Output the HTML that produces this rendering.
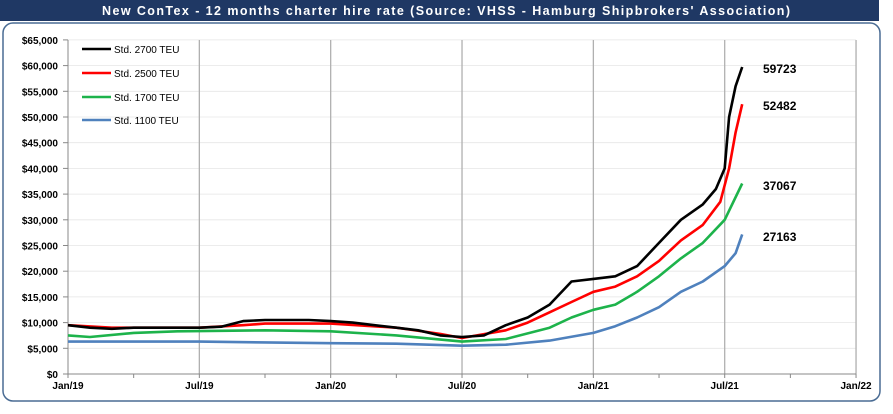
<!DOCTYPE html>
<html><head><meta charset="utf-8"><style>
body{margin:0;background:#fff;width:893px;height:409px;overflow:hidden;font-family:"Liberation Sans",sans-serif}
</style></head><body>
<svg id="s" width="893" height="409" xmlns="http://www.w3.org/2000/svg" font-family="Liberation Sans, sans-serif">
<rect x="0" y="0" width="879" height="21" fill="#1f3864"/>
<text x="102" y="15" fill="#fff" font-size="12.5" font-weight="bold" textLength="688" lengthAdjust="spacing">New ConTex - 12 months charter hire rate   (Source: VHSS - Hamburg Shipbrokers' Association)</text>
<rect x="3" y="23" width="877" height="378" rx="10" fill="none" stroke="#4a6c94" stroke-width="1.5"/>
<g id="grid"></g>
<g id="lines" fill="none" stroke-width="2.6" stroke-linejoin="round"></g>
<g font-size="10" fill="#000">
<line x1="82" y1="49" x2="111" y2="49" stroke="#000" stroke-width="2.6"/><text x="114" y="53">Std. 2700 TEU</text>
<line x1="82" y1="73" x2="111" y2="73" stroke="#f00" stroke-width="2.6"/><text x="114" y="77">Std. 2500 TEU</text>
<line x1="82" y1="97" x2="111" y2="97" stroke="#1db34b" stroke-width="2.6"/><text x="114" y="101">Std. 1700 TEU</text>
<line x1="82" y1="120" x2="111" y2="120" stroke="#4f81bd" stroke-width="2.6"/><text x="114" y="124">Std. 1100 TEU</text>
</g>
<g font-size="12" font-weight="bold">
<text x="763" y="73">59723</text><text x="763" y="110">52482</text>
<text x="763" y="190">37067</text><text x="763" y="241">27163</text>
</g>
</svg>
<script>
const X=m=>68+m*21.89, Y=v=>374-v/5000*25.7;
let g='';
for(let i=0;i<=13;i++){let y=Y(i*5000);
 if(i>0)g+=`<line x1="68" y1="${y}" x2="856" y2="${y}" stroke="#e6e6e6" stroke-width="0.8"/>`;
 g+=`<line x1="63" y1="${y}" x2="68" y2="${y}" stroke="#888"/>`;
 g+=`<text x="58" y="${y+4}" font-size="10" font-weight="bold" text-anchor="end">$${(i*5000).toLocaleString('en-US')}</text>`;}
const lab=['Jan/19','Jul/19','Jan/20','Jul/20','Jan/21','Jul/21','Jan/22'];
for(let i=0;i<=6;i++){let x=X(i*6);
 if(i>0)g+=`<line x1="${x}" y1="40" x2="${x}" y2="374" stroke="#b0b0b0" stroke-width="1.3"/>`;
 g+=`<text x="${x}" y="389" font-size="10" font-weight="bold" text-anchor="middle">${lab[i]}</text>`;}
for(let i=0;i<=12;i++){let x=X(i*3);g+=`<line x1="${x}" y1="374" x2="${x}" y2="378" stroke="#888"/>`;}
g+=`<line x1="68" y1="40" x2="68" y2="374" stroke="#888"/><line x1="68" y1="374" x2="856" y2="374" stroke="#888"/>`;
document.getElementById('grid').innerHTML=g;
const S=[
['#4f81bd',[[0,6300],[6,6300],[12,6000],[15,5900],[18,5500],[20,5700],[22,6500],[24,8000],[25,9300],[26,11000],[27,13000],[28,16000],[29,18000],[30,21000],[30.5,23500],[30.8,27163]]],
['#1db34b',[[0,7500],[1,7200],[3,8000],[5,8300],[9,8500],[12,8300],[15,7500],[18,6300],[20,6800],[22,9000],[23,11000],[24,12500],[25,13500],[26,16000],[27,19000],[28,22500],[29,25500],[30,30000],[30.8,37067]]],
['#f00',[[0,9500],[2,9000],[6,9000],[8,9500],[9,9800],[12,9800],[15,9000],[17,7800],[18,7000],[20,8500],[21,10000],[22,12000],[23,14000],[24,16000],[25,17000],[26,19000],[27,22000],[28,26000],[29,29000],[29.8,33500],[30.2,40000],[30.5,47000],[30.8,52482]]],
['#000',[[0,9500],[1,9000],[2,8800],[3,9000],[6,9000],[7,9200],[8,10300],[9,10500],[11,10500],[12,10300],[13,10000],[14,9500],[15,9000],[16,8500],[17,7500],[18,7200],[19,7500],[20,9500],[21,11000],[22,13500],[23,18000],[24,18500],[25,19000],[26,21000],[27,25500],[28,30000],[29,33000],[29.6,36000],[30,40000],[30.2,50000],[30.5,56000],[30.8,59723]]]];
let l='';
for(const [c,p] of S){l+=`<polyline stroke="${c}" points="${p.map(q=>X(q[0]).toFixed(1)+','+Y(q[1]).toFixed(1)).join(' ')}"/>`;}
document.getElementById('lines').innerHTML=l;
</script>
</body></html>
